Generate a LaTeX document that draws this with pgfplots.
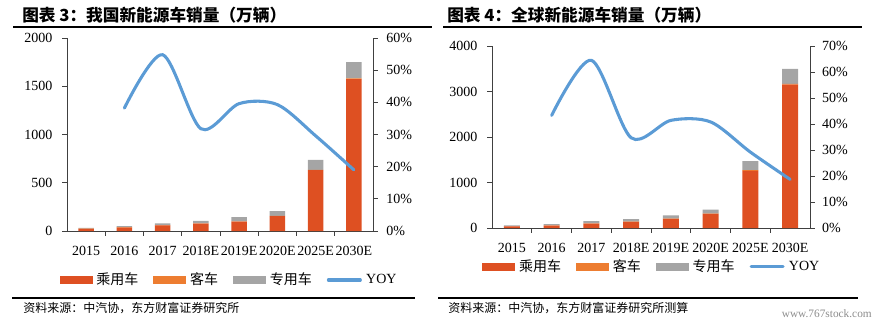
\documentclass[border=0pt]{standalone}
\usepackage{fontspec}
\setmainfont{Liberation Serif}
\newfontfamily\cjk{Noto Sans CJK SC}
\usepackage{pgfplots}
\usepackage{pgfplotstable}
\pgfplotsset{compat=1.18}
\definecolor{cCar}{RGB}{222,80,34}
\definecolor{cBus}{RGB}{237,125,49}
\definecolor{cSpec}{RGB}{165,165,165}
\definecolor{cYoy}{RGB}{91,155,213}

\pgfplotstableread{
x car bus spec
0 22 3 8
1 35 4 12
2 58 3 17
3 76 3 25
4 97 3 45
5 155 3 47
6 630 4 103
7 1574 8 169
}\dataCN
\pgfplotstableread{
x car bus spec
0 35 3 22
1 55 4 29
2 95 5 50
3 135 5 55
4 200 5 70
5 310 8 85
6 1255 15 200
7 3150 20 330
}\dataW

\pgfplotsset{
 base/.style={scale only axis, anchor=south west, xmin=-0.5, xmax=7.5, ymin=0,
   tick align=outside,
   tick label style={font=\fontsize{10.5}{12}\selectfont},
   /pgf/number format/assume math mode=true,
   /pgf/number format/1000 sep={},
   axis line style={black!75, line width=0.6pt},
   tick style={black!75, line width=0.6pt},
   major tick length=3.5pt, minor tick length=3.5pt, clip=false},
 bars/.style={base, axis x line*=bottom, axis y line*=left,
   xtick={0,...,7},
   xticklabels={2015,2016,2017,2018E,2019E,2020E,2025E,2030E},
   major x tick style={draw=none},
   minor xtick={0.5,1.5,2.5,3.5,4.5,5.5,6.5},
   xticklabel style={yshift=-4pt},
   yticklabel style={xshift=-4pt},
   ybar stacked, bar width=11.8pt},
 pct/.style={base, axis x line=none, axis y line*=right,
   yticklabel style={xshift=3pt},
   legend columns=4,
   legend style={draw=none, fill=none, anchor=center,
     font=\cjk\fontsize{10.5}{12}\selectfont,
     /tikz/every odd column/.append style={column sep=2pt},
     /tikz/every even column/.append style={column sep=10pt},
     nodes={inner sep=1.2pt}}},
 limg/.style={legend image code/.code={\fill[#1] (0pt,-2.6pt) rectangle (24pt,2.6pt);}},
 yoyline/.style={cYoy, line width=2.3pt, line cap=round, smooth,
   legend image code/.code={\draw[cYoy,line width=2.3pt,line cap=round] (0pt,0pt)--(24pt,0pt);}}
}

\begin{document}
\begin{tikzpicture}
\useasboundingbox (0pt,0pt) rectangle (666.75pt,-244.5pt);

% ---------- Left panel ----------
\node[anchor=west, inner sep=0] at (16.5pt,-11.25pt)
  {\cjk\bfseries\fontsize{12.5}{14}\selectfont 图表 3：我国新能源车销量（万辆）};
\draw[black, line width=0.8pt] (9.75pt,-20.25pt) -- (324pt,-20.25pt);

\begin{axis}[bars, at={(50.25pt,-173.25pt)}, width=229.5pt, height=144.75pt,
  ymax=2000, ytick={0,500,1000,1500,2000}]
\addplot[fill=cCar, draw=none] table[x=x,y=car]{\dataCN};
\addplot[fill=cBus, draw=none] table[x=x,y=bus]{\dataCN};
\addplot[fill=cSpec, draw=none] table[x=x,y=spec]{\dataCN};
\end{axis}
\begin{axis}[pct, at={(50.25pt,-173.25pt)}, width=229.5pt, height=144.75pt,
  ymax=60, ytick={0,10,20,30,40,50,60},
  yticklabels={0\%,10\%,20\%,30\%,40\%,50\%,60\%},
  legend style={at={(0.529,-0.254)}}]
\addlegendimage{limg=cCar}\addlegendentry{乘用车}
\addlegendimage{limg=cBus}\addlegendentry{客车}
\addlegendimage{limg=cSpec}\addlegendentry{专用车}
\addplot[yoyline] coordinates {(1,38.2) (2,54.8) (3,31.8) (4,39.6) (5,39.3) (6,29.6) (7,19.0)};
\addlegendentry{\rmfamily YOY}
\end{axis}

\draw[black, line width=0.8pt] (9pt,-223.5pt) -- (311.25pt,-223.5pt);
\node[anchor=west, inner sep=0] at (17.25pt,-231pt)
  {\cjk\fontsize{9}{11}\selectfont 资料来源：中汽协，东方财富证券研究所};

% ---------- Right panel ----------
\node[anchor=west, inner sep=0] at (335.25pt,-11.25pt)
  {\cjk\bfseries\fontsize{12.5}{14}\selectfont 图表 4：全球新能源车销量（万辆）};
\draw[black, line width=0.8pt] (332.25pt,-20.25pt) -- (646.5pt,-20.25pt);

\begin{axis}[bars, at={(369pt,-171pt)}, width=238.5pt, height=136.5pt,
  ymax=4000, ytick={0,1000,2000,3000,4000}, bar width=12pt]
\addplot[fill=cCar, draw=none] table[x=x,y=car]{\dataW};
\addplot[fill=cBus, draw=none] table[x=x,y=bus]{\dataW};
\addplot[fill=cSpec, draw=none] table[x=x,y=spec]{\dataW};
\end{axis}
\begin{axis}[pct, at={(369pt,-171pt)}, width=238.5pt, height=136.5pt,
  ymax=70, ytick={0,10,20,30,40,50,60,70},
  yticklabels={0\%,10\%,20\%,30\%,40\%,50\%,60\%,70\%},
  yticklabel style={xshift=-1pt},
  legend style={at={(0.502,-0.214)}}]
\addlegendimage{limg=cCar}\addlegendentry{乘用车}
\addlegendimage{limg=cBus}\addlegendentry{客车}
\addlegendimage{limg=cSpec}\addlegendentry{专用车}
\addplot[yoyline] coordinates {(1,43.3) (2,64.5) (3,34.7) (4,41.4) (5,40.8) (6,29.2) (7,18.7)};
\addlegendentry{\rmfamily YOY}
\end{axis}

\draw[black, line width=0.8pt] (328.5pt,-223.5pt) -- (643.5pt,-223.5pt);
\node[anchor=west, inner sep=0] at (336pt,-231pt)
  {\cjk\fontsize{9}{11}\selectfont 资料来源：中汽协，东方财富证券研究所测算};
\node[anchor=east, inner sep=0, text=black!45] at (654pt,-235pt)
  {\fontsize{8.5}{10}\selectfont www.767stock.com};
\end{tikzpicture}
\end{document}
